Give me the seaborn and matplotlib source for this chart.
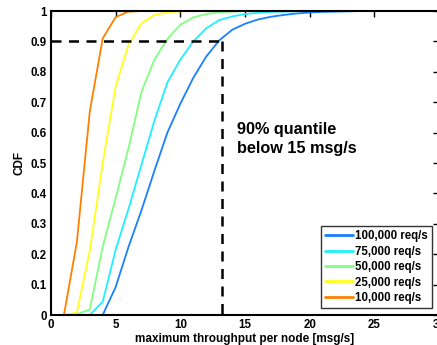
import numpy as np
import pandas as pd
import seaborn as sns
import matplotlib
matplotlib.use("Agg")
import matplotlib.pyplot as plt

# throughput per node [msg/s], one point per integer step
x = list(range(0, 31))

# CDF values
cdf_100k = [0, 0, 0, 0, 0, 0.092, 0.225, 0.345, 0.475, 0.60, 0.695, 0.78, 0.85, 0.903, 0.938,
            0.958, 0.972, 0.981, 0.987, 0.992, 0.995, 0.997, 0.998, 0.999, 1, 1, 1, 1, 1, 1, 1]
cdf_75k = [0, 0, 0, 0, 0.044, 0.215, 0.35, 0.495, 0.64, 0.765, 0.84, 0.9, 0.943, 0.97, 0.982,
           0.99, 0.994, 0.997, 0.998, 0.999, 1, 1, 1, 1, 1, 1, 1, 1, 1, 1, 1]
cdf_50k = [0, 0, 0.002, 0.018, 0.225, 0.385, 0.55, 0.735, 0.84, 0.908, 0.955, 0.979, 0.99, 0.996, 0.998,
           1, 1, 1, 1, 1, 1, 1, 1, 1, 1, 1, 1, 1, 1, 1, 1]
cdf_25k = [0, 0, 0.008, 0.212, 0.50, 0.752, 0.89, 0.96, 0.987, 0.996, 0.999, 1, 1, 1, 1,
           1, 1, 1, 1, 1, 1, 1, 1, 1, 1, 1, 1, 1, 1, 1, 1]
cdf_10k = [0, 0, 0.24, 0.67, 0.91, 0.98, 0.998, 1, 1, 1, 1, 1, 1, 1, 1,
           1, 1, 1, 1, 1, 1, 1, 1, 1, 1, 1, 1, 1, 1, 1, 1]

labels = ['100,000 req/s', '75,000 req/s', '50,000 req/s', '25,000 req/s', '10,000 req/s']
colors = ['#1a80ff', '#1ff0ff', '#80ff80', '#ffff1a', '#ff8000']

quantile_x = 13.2
quantile_y = 0.9

df = pd.concat([
    pd.DataFrame({'x': x, 'cdf': c, 'rate': lab})
    for c, lab in zip([cdf_100k, cdf_75k, cdf_50k, cdf_25k, cdf_10k], labels)
])

sns.set_style('white')
plt.rcParams['font.family'] = ['Liberation Sans', 'DejaVu Sans']
plt.rcParams['font.weight'] = 'bold'
for k in ['text.color', 'axes.labelcolor', 'xtick.color', 'ytick.color']:
    plt.rcParams[k] = 'black'

fig = plt.figure(figsize=(4.37, 3.45), dpi=100)
ax = fig.add_axes([51 / 437, 30 / 345, 388 / 437, 304 / 345])

sns.lineplot(data=df, x='x', y='cdf', hue='rate', hue_order=labels,
             palette=dict(zip(labels, colors)), linewidth=1.3, ax=ax)

ax.plot([0, quantile_x], [quantile_y, quantile_y], color='black', linestyle=(0, (4, 3)), linewidth=1.8)
ax.plot([quantile_x, quantile_x], [quantile_y, 0], color='black', linestyle=(0, (4, 3)), linewidth=1.8)

ax.text(14.4, 0.635, '90% quantile\nbelow 15 msg/s', fontsize=11.7, fontweight='bold',
        color='black', va='top', ha='left', linespacing=1.3)

ax.set_xlim(0, 30)
ax.set_ylim(0, 1)
ax.set_xticks(np.arange(0, 31, 5))
ax.set_yticks(np.round(np.arange(0, 1.01, 0.1), 1))
ax.set_yticklabels(['0', '0.1', '0.2', '0.3', '0.4', '0.5', '0.6', '0.7', '0.8', '0.9', '1'])
ax.tick_params(direction='in', top=True, right=True, length=4, width=1, labelsize=8.3, pad=3)
for s in ax.spines.values():
    s.set_linewidth(1.5)
    s.set_color('black')

ax.set_xlabel('maximum throughput per node [msg/s]', fontsize=8.5, fontweight='bold', labelpad=1)
ax.set_ylabel('CDF', fontsize=8.5, fontweight='bold', labelpad=4)

leg = ax.legend(loc='lower right', bbox_to_anchor=(432 / 437, 1 - 308 / 345),
                bbox_transform=fig.transFigure, fontsize=8.3, frameon=True, fancybox=False,
                handlelength=2.4, handletextpad=0.2, labelspacing=0.3, borderpad=0.35,
                borderaxespad=0)
leg.get_frame().set_edgecolor('black')
leg.get_frame().set_linewidth(1)
for t in leg.get_texts():
    t.set_fontweight('bold')
    t.set_color('black')
for h in leg.get_lines():
    h.set_linewidth(2)

fig.savefig('out.png', dpi=100)
